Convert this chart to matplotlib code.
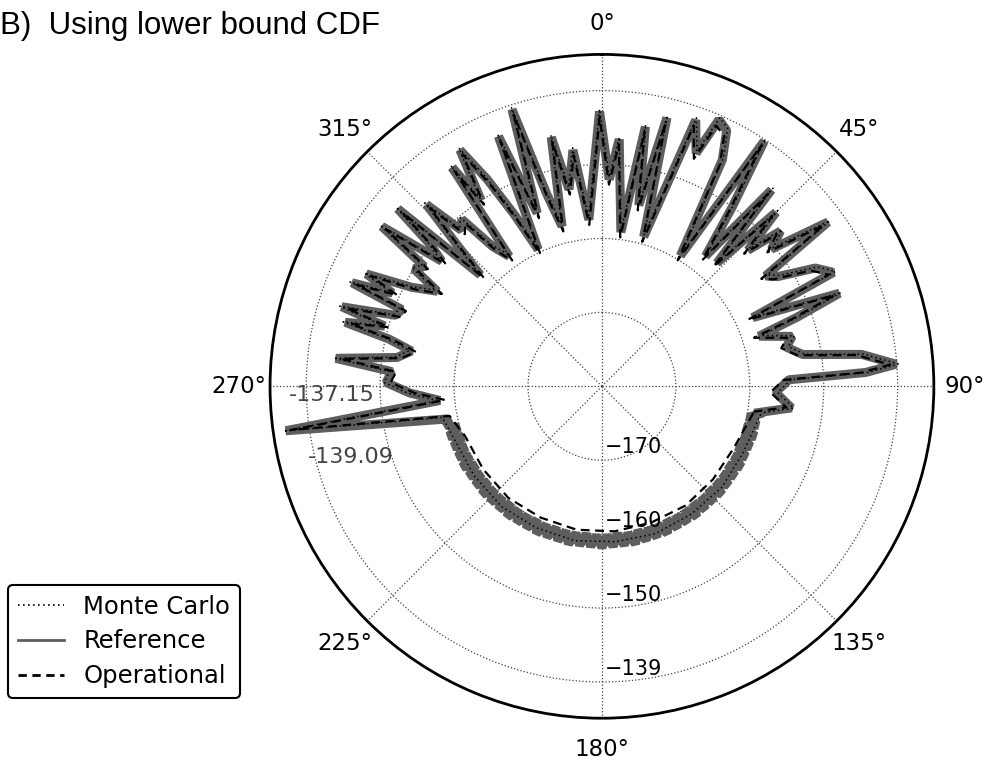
import numpy as np
import matplotlib.pyplot as plt
from matplotlib.lines import Line2D
from matplotlib.transforms import offset_copy

# azimuth (deg, clockwise from north) of the jagged part, 262 deg round through 0 to ~100 deg
jag_theta = [262, 265, 268, 271, 274, 276, 278, 280.5, 282.5, 284,
             285.5, 287, 289, 291, 292.5, 294, 295.5, 297.5, 300, 302,
             304, 306, 308, 309.5, 311, 312.5, 314.5, 316, 318, 320,
             322, 324.5, 325.6, 327, 329, 331, 333, 335, 337.5, 339.5,
             342, 344, 346, 348.5, 350.5, 353, 355.5, 359.5, 362, 364,
             367, 369.5, 371.5, 373.6, 375.6, 379.4, 382, 383.7, 386, 388,
             391, 393.5, 396, 398.5, 400.8, 403, 405, 407, 409, 411,
             414, 416, 418, 421, 423.8, 425.5, 428.6, 430.5, 432.3, 435.3,
             438, 441, 443, 445.7, 447, 448, 452, 456.5, 459.5]

ref_jag = [-136.8, -158.0, -154.0, -150.8, -151.5, -143.8, -152.0, -153.8, -150.5, -144.2,
           -149.5, -143.2, -150.5, -151.0, -143.4, -149.0, -144.7, -151.0, -154.3, -150.0,
           -151.0, -143.2, -152.5, -150.0, -143.4, -157.7, -152.0, -145.8, -151.6, -150.5,
           -156.0, -158.4, -144.1, -150.0, -142.7, -148.0, -154.0, -159.6, -143.4, -155.0,
           -140.6, -153.0, -157.7, -145.6, -153.0, -147.8, -157.4, -142.8, -152.0, -146.5,
           -159.0, -144.4, -155.0, -142.6, -159.0, -141.8, -146.0, -140.6, -141.5, -145.3,
           -159.4, -140.2, -150.0, -157.5, -144.9, -157.2, -146.7, -153.0, -148.0, -150.5,
           -142.2, -153.3, -152.0, -147.0, -145.1, -157.6, -145.5, -152.0, -157.7, -153.4,
           -154.5, -152.5, -144.6, -140.1, -144.3, -154.7, -156.5, -154.2, -158.5]

op_jag = [-137.6, -158.7, -154.6, -151.4, -152.1, -144.5, -152.6, -154.4, -151.1, -144.9,
          -150.1, -143.9, -151.2, -151.6, -144.1, -149.7, -145.4, -151.7, -155.0, -150.7,
          -151.6, -143.9, -153.2, -150.6, -144.2, -158.4, -152.7, -146.5, -152.3, -151.2,
          -156.7, -159.1, -144.8, -150.7, -143.4, -148.7, -154.7, -160.3, -144.1, -155.7,
          -141.4, -153.7, -158.4, -146.3, -153.7, -148.5, -158.1, -143.6, -152.7, -147.2,
          -159.7, -145.1, -155.7, -143.3, -159.7, -142.6, -146.8, -141.5, -142.3, -146.0,
          -160.1, -141.0, -150.8, -158.2, -145.6, -157.9, -147.4, -153.7, -148.7, -151.2,
          -142.9, -154.0, -152.7, -147.7, -145.8, -158.3, -146.2, -152.7, -158.4, -154.1,
          -155.2, -153.2, -145.3, -140.9, -145.0, -155.4, -157.2, -154.9, -159.2]

mc_jag = [-136.5, -157.7, -153.7, -150.5, -151.2, -143.5, -151.7, -153.5, -150.2, -143.9,
          -149.2, -142.9, -150.2, -150.7, -143.1, -148.7, -144.4, -150.7, -154.0, -149.7,
          -150.7, -142.9, -152.2, -149.7, -143.1, -157.4, -151.7, -145.5, -151.3, -150.2,
          -155.7, -158.1, -143.8, -149.7, -142.4, -147.7, -153.7, -159.3, -143.1, -154.7,
          -140.3, -152.7, -157.4, -145.3, -152.7, -147.5, -157.1, -142.5, -151.7, -146.2,
          -158.7, -144.1, -154.7, -142.3, -158.7, -141.5, -145.7, -140.3, -141.2, -145.0,
          -159.1, -139.9, -149.7, -157.2, -144.6, -156.9, -146.4, -152.7, -147.7, -150.2,
          -141.9, -153.0, -151.7, -146.7, -144.8, -157.3, -145.2, -151.7, -157.4, -153.1,
          -154.2, -152.2, -144.3, -139.8, -144.0, -154.4, -156.2, -153.9, -158.2]

# lower half (100 deg -> 258 deg), the wide grey ring
band_theta = np.arange(100, 260, 2)
ref_band = [-158.4, -159.8, -158.3, -159.9, -158.2, -159.8, -158.3, -159.9, -158.3, -159.8,
            -158.2, -159.9, -158.3, -159.8, -158.3, -159.8, -158.2, -159.9, -158.3, -159.8,
            -158.3, -159.9, -158.2, -159.8, -158.3, -159.8, -158.3, -159.9, -158.2, -159.8,
            -158.3, -159.8, -158.3, -159.9, -158.2, -159.8, -158.3, -159.9, -158.3, -159.8,
            -158.2, -159.8, -158.3, -159.9, -158.3, -159.8, -158.2, -159.8, -158.3, -159.9,
            -158.3, -159.8, -158.2, -159.9, -158.3, -159.8, -158.3, -159.8, -158.2, -159.9,
            -158.3, -159.8, -158.3, -159.8, -158.2, -159.9, -158.3, -159.8, -158.3, -159.9,
            -158.2, -159.8, -158.3, -159.8, -158.3, -159.9, -158.2, -159.8, -158.3, -158.8]

band_theta_coarse = [100, 115, 130, 145, 160, 175, 190, 205, 220, 235, 250, 259]
op_band = [-159.2, -160.3, -160.4, -160.3, -160.4, -160.3, -160.3, -160.4, -160.3, -160.4, -160.3, -159.0]
mc_band = [-158.2, -158.9, -158.8, -158.9, -158.8, -158.9, -158.8, -158.9, -158.8, -158.9, -158.8, -158.0]

r_ticks = [-170, -160, -150, -140]
r_tick_labels = ["\u2212170", "\u2212160", "\u2212150", "\u2212139"]
angle_labels = ["0\u00b0", "45\u00b0", "90\u00b0", "135\u00b0", "180\u00b0", "225\u00b0", "270\u00b0", "315\u00b0"]
extra_labels = [("-137.15", 268.1, -143.5), ("-139.09", 254.2, -144.7)]

series_labels = ["Monte Carlo", "Reference", "Operational"]


fig = plt.figure(figsize=(9.98, 7.63), dpi=100)
ax = fig.add_axes([0.2705, 0.0587, 0.6653, 0.870], projection="polar")
ax.set_theta_zero_location("N")
ax.set_theta_direction(-1)

ref_theta = np.deg2rad(np.concatenate([band_theta, jag_theta]))
other_theta = np.deg2rad(np.concatenate([band_theta_coarse, jag_theta]))

ax.plot(ref_theta, ref_band + ref_jag, color="#5e5e5e", lw=6.5, solid_joinstyle="bevel", zorder=3)
ax.plot(other_theta, op_band + op_jag, color="black", lw=1.6, ls=(0, (4, 2.5)), zorder=4)
ax.plot(other_theta, mc_band + mc_jag, color="black", lw=1.1, ls=(0, (1, 2)), zorder=5)

ax.set_ylim(-180, -135.1)
ax.set_yticks(r_ticks)
ax.set_yticklabels([])
ax.set_xticks(np.deg2rad(np.arange(0, 360, 45)))
ax.set_xticklabels(angle_labels, fontsize=16.5)
ax.tick_params(axis="x", pad=12)
ax.grid(True, linestyle=":", color="#444444", linewidth=0.9)
ax.spines["polar"].set_linewidth(2)

trans = offset_copy(ax.transData, fig=fig, x=3, y=3, units="dots")
for r, lab in zip(r_ticks, r_tick_labels):
    ax.text(np.pi, r, lab, transform=trans, ha="left", va="bottom", fontsize=15, zorder=6)

for lab, th, r in extra_labels:
    ax.text(np.deg2rad(th), r, lab, ha="center", va="center", fontsize=16, color="#444444", zorder=6)

fig.text(0.0, 0.985, "B)  Using lower bound CDF", fontsize=22.5, family="Liberation Sans",
         ha="left", va="top")

handles = [
    Line2D([], [], color="black", lw=1.2, ls=(0, (1, 2))),
    Line2D([], [], color="#5e5e5e", lw=2),
    Line2D([], [], color="black", lw=2, ls=(0, (3, 2))),
]
leg = fig.legend(handles, series_labels, loc="lower left", bbox_to_anchor=(0.008, 0.085),
                 fontsize=17.5, frameon=True, fancybox=True, edgecolor="black",
                 handlelength=1.9, borderpad=0.4, labelspacing=0.45, framealpha=1,
                 borderaxespad=0)
leg.get_frame().set_linewidth(1.5)

fig.savefig("out.png", dpi=100)
